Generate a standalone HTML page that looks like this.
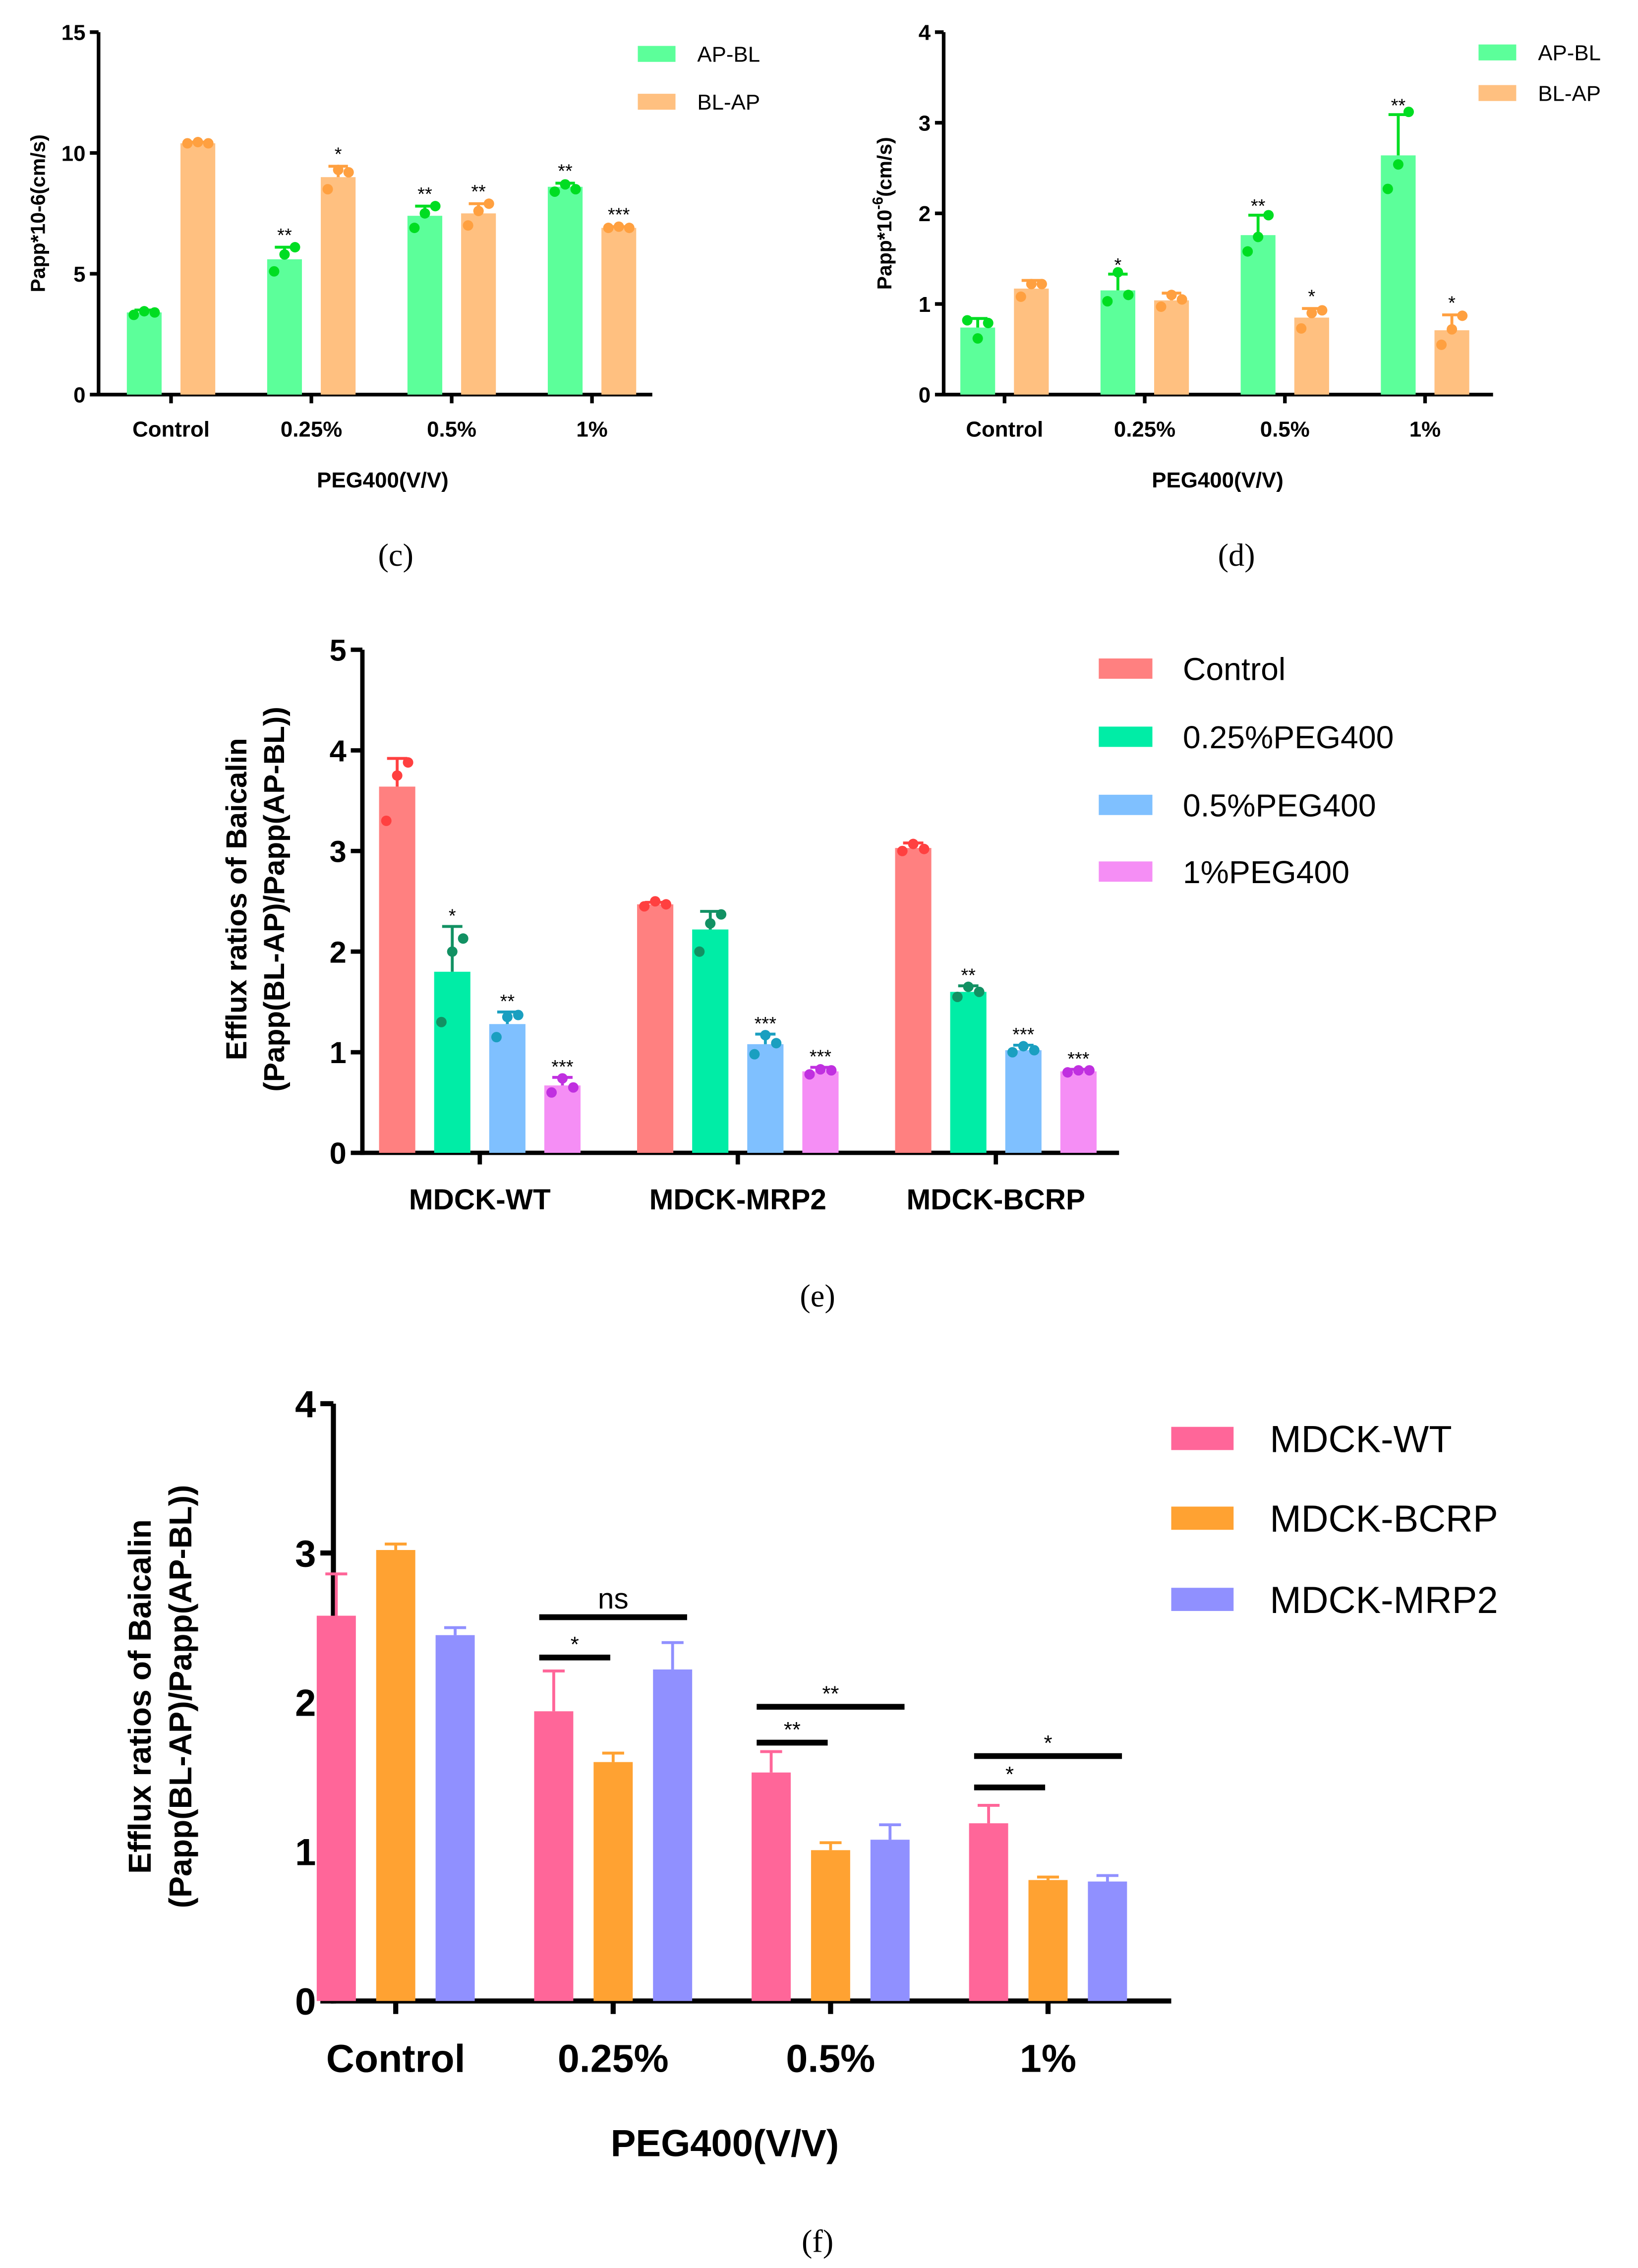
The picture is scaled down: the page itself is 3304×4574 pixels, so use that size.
<!DOCTYPE html>
<html><head><meta charset="utf-8"><style>
html,body{margin:0;padding:0;background:#fff}
svg{display:block}
text{font-family:"Liberation Sans",Arial,sans-serif}
.cap{font-family:"Liberation Serif",serif;font-size:22px}
</style></head><body>
<svg id="fig" width="3304" height="4574" viewBox="0 0 1130 1564" xmlns="http://www.w3.org/2000/svg"></svg>
<script>
// ---- Panel c data
const cCats=["Control","0.25%","0.5%","1%"];
const cSeries=["AP-BL","BL-AP"];
const cAPBL=[3.4,5.6,7.4,8.6];
const cBLAP=[10.4,9.0,7.5,6.9];
const cAPBLerr=[0.1,0.5,0.4,0.15];
const cBLAPerr=[0.05,0.45,0.4,0.05];
const cAPBLdots=[[3.3,3.45,3.4],[5.1,5.8,6.1],[6.9,7.5,7.8],[8.4,8.7,8.5]];
const cBLAPdots=[[10.4,10.45,10.4],[8.5,9.3,9.2],[7.0,7.6,7.9],[6.9,6.95,6.9]];
const cStars=[["","**","**","**"],["","*","**","***"]];
const cTicks=[0,5,10,15];
// ---- Panel d data
const dCats=["Control","0.25%","0.5%","1%"];
const dAPBL=[0.74,1.15,1.76,2.64];
const dBLAP=[1.17,1.04,0.85,0.71];
const dAPBLerr=[0.1,0.18,0.22,0.45];
const dBLAPerr=[0.09,0.08,0.1,0.17];
const dAPBLdots=[[0.82,0.62,0.79],[1.03,1.35,1.1],[1.58,1.74,1.98],[2.27,2.54,3.12]];
const dBLAPdots=[[1.08,1.22,1.22],[0.97,1.1,1.05],[0.73,0.9,0.93],[0.55,0.72,0.87]];
const dStars=[["","*","**","**"],["","","*","*"]];
const dTicks=[0,1,2,3,4];
// ---- Panel e data
const eCats=["MDCK-WT","MDCK-MRP2","MDCK-BCRP"];
const eSeries=["Control","0.25%PEG400","0.5%PEG400","1%PEG400"];
const eCtrl=[3.64,2.47,3.03];
const e025=[1.80,2.22,1.60];
const e05=[1.28,1.08,1.02];
const e1=[0.67,0.81,0.81];
const eCtrlErr=[0.28,0.02,0.05];
const e025Err=[0.45,0.18,0.06];
const e05Err=[0.12,0.1,0.05];
const e1Err=[0.08,0.04,0.02];
const eCtrlDots=[[3.3,3.75,3.88],[2.45,2.5,2.47],[3.0,3.07,3.02]];
const e025Dots=[[1.3,2.0,2.13],[2.0,2.28,2.37],[1.55,1.65,1.6]];
const e05Dots=[[1.15,1.35,1.37],[0.98,1.17,1.09],[1.0,1.06,1.02]];
const e1Dots=[[0.6,0.74,0.65],[0.78,0.83,0.82],[0.8,0.82,0.82]];
const eStars=[["","",""],["*","","**"],["**","***","***"],["***","***","***"]];
const eTicks=[0,1,2,3,4,5];
// ---- Panel f data
const fCats=["Control","0.25%","0.5%","1%"];
const fSeries=["MDCK-WT","MDCK-BCRP","MDCK-MRP2"];
const fWT=[2.58,1.94,1.53,1.19];
const fBCRP=[3.02,1.60,1.01,0.81];
const fMRP2=[2.45,2.22,1.08,0.80];
const fWTerr=[0.28,0.27,0.14,0.12];
const fBCRPerr=[0.04,0.06,0.05,0.02];
const fMRP2err=[0.05,0.18,0.1,0.04];
const fTicks=[0,1,2,3,4];
// significance brackets: category index, from series, to series, level, label
const fSigCat=[1,1,2,2,3,3];
const fSigTo=[1,2,1,2,1,2];
const fSigLevel=[2.3,2.57,1.73,1.97,1.43,1.64];
const fSigLabel=["*","ns","**","**","*","*"];

const NS="http://www.w3.org/2000/svg";
const svg=document.getElementById('fig');
function el(tag,attrs,parent,txt){const e=document.createElementNS(NS,tag);for(const k in attrs)e.setAttribute(k,attrs[k]);if(txt!==undefined)e.textContent=txt;(parent||svg).appendChild(e);return e;}
function grp(name){const g=el('g',{},svg);


return g;}

function axes(g,o){
  const ys=v=>o.y0-(v/o.max)*(o.y0-o.yTop);
  const ya=el('line',{x1:o.ax,y1:o.yTop,x2:o.ax,y2:o.y0+o.aw/2,stroke:'#000','stroke-width':o.aw},g);
  
  
  const xa=el('line',{x1:o.ax-o.aw/2,y1:o.y0,x2:o.xEnd,y2:o.y0,stroke:'#000','stroke-width':o.aw},g);
  
  
  o.ticks.forEach(t=>{
    el('line',{x1:o.ax-o.tl,y1:ys(t),x2:o.ax,y2:ys(t),stroke:'#000','stroke-width':o.aw},g);
    const tx=el('text',{x:o.ax-o.tl-3,y:ys(t)+o.tf*0.36,'text-anchor':'end','font-size':o.tf,'font-weight':'bold'},g,String(t));
    
    
  });
  o.cats.forEach((c,i)=>{
    const cx=o.cx(i);
    el('line',{x1:cx,y1:o.y0,x2:cx,y2:o.y0+o.tl,stroke:'#000','stroke-width':o.aw},g);
    const tx=el('text',{x:cx,y:o.labY,'text-anchor':'middle','font-size':o.lf,'font-weight':'bold'},g,c);
    
    
  });
  return ys;
}
function bar(g,x,w,v,err,ys,y0,fill,errCol,name){
  const r=el('rect',{x:x-w/2,y:ys(v),width:w,height:y0-ys(v),fill:fill},g);
  
  
  el('line',{x1:x,y1:ys(v),x2:x,y2:ys(v+err),stroke:errCol,'stroke-width':2},g);
  el('line',{x1:x-w*0.28,y1:ys(v+err),x2:x+w*0.28,y2:ys(v+err),stroke:errCol,'stroke-width':2},g);
}
function dots(g,x,w,vals,ys,col){
  const off=[-w*0.3,0,w*0.3];
  vals.forEach((v,k)=>{const c=el('circle',{cx:x+off[k],cy:ys(v),r:3.6,fill:col},g);
    
    });
}
function star(g,x,y,s,fs){if(!s)return;const t=el('text',{x:x,y:y,'text-anchor':'middle','font-size':fs},g,s);
  
  }
function legend(g,x,ys,names,cols,w,h,tx,fs){
  names.forEach((n,i)=>{
    const r=el('rect',{x:x,y:ys[i]-h/2,width:w,height:h,fill:cols[i]},g);
    
    
    const t=el('text',{x:tx,y:ys[i]+fs*0.36,'font-size':fs},g,n);
    
    
  });
}
function ytitle(g,x,y,lines,fs,gap){
  lines.forEach((l,i)=>{const t=el('text',{x:0,y:0,'text-anchor':'middle','font-size':fs,'font-weight':'bold',transform:`translate(${x+i*gap},${y}) rotate(-90)`},g,l);
    
    });
}
function xtitle(g,x,y,s,fs){const t=el('text',{x:x,y:y,'text-anchor':'middle','font-size':fs,'font-weight':'bold'},g,s);
  
  }
function caption(x,y,s){const t=el('text',{x:x,y:y,'text-anchor':'middle',class:'cap'},svg,s);
  
  }

const GREEN='#5cff9a',ORANGE='#ffc080',GDOT='#00dd22',ODOT='#ffa040';
// ---- Panel c
(function(){
  const g=grp('panel-c-chart');
  const cx=i=>118+i*96.8;
  const ys=axes(g,{ax:68,yTop:22,y0:272,max:15,xEnd:450,aw:2.5,tl:6,tf:15,lf:15,labY:301,ticks:cTicks,cats:cCats,cx:cx});
  cCats.forEach((c,i)=>{
    bar(g,cx(i)-18.5,24,cAPBL[i],cAPBLerr[i],ys,272,GREEN,GDOT,'bar-ap-bl');
    dots(g,cx(i)-18.5,24,cAPBLdots[i],ys,GDOT);
    star(g,cx(i)-18.5,ys(cAPBL[i]+cAPBLerr[i])-4,cStars[0][i],13);
    bar(g,cx(i)+18.5,24,cBLAP[i],cBLAPerr[i],ys,272,ORANGE,ODOT,'bar-bl-ap');
    dots(g,cx(i)+18.5,24,cBLAPdots[i],ys,ODOT);
    star(g,cx(i)+18.5,ys(cBLAP[i]+cBLAPerr[i])-4,cStars[1][i],13);
  });
  legend(g,440,[37,70],cSeries,[GREEN,ORANGE],26,11,481,15);
  ytitle(g,31,147,["Papp*10-6(cm/s)"],14,0);
  xtitle(g,264,336,"PEG400(V/V)",15);
})();
caption(273,390,"(c)");
// ---- Panel d
(function(){
  const g=grp('panel-d-chart');
  const cx=i=>693+i*96.7;
  const ys=axes(g,{ax:651,yTop:22,y0:272,max:4,xEnd:1030,aw:2.5,tl:6,tf:15,lf:15,labY:301,ticks:dTicks,cats:dCats,cx:cx});
  dCats.forEach((c,i)=>{
    bar(g,cx(i)-18.5,24,dAPBL[i],dAPBLerr[i],ys,272,GREEN,GDOT,'bar-ap-bl');
    dots(g,cx(i)-18.5,24,dAPBLdots[i],ys,GDOT);
    star(g,cx(i)-18.5,ys(dAPBL[i]+dAPBLerr[i])-2,dStars[0][i],13);
    bar(g,cx(i)+18.5,24,dBLAP[i],dBLAPerr[i],ys,272,ORANGE,ODOT,'bar-bl-ap');
    dots(g,cx(i)+18.5,24,dBLAPdots[i],ys,ODOT);
    star(g,cx(i)+18.5,ys(dBLAP[i]+dBLAPerr[i])-4,dStars[1][i],13);
  });
  legend(g,1020,[36,64],cSeries,[GREEN,ORANGE],26,11,1061,15);
  const t=el('text',{x:0,y:0,'text-anchor':'middle','font-size':14,'font-weight':'bold',transform:'translate(615,147) rotate(-90)'},g);
  
  
  el('tspan',{},t,'Papp*10');el('tspan',{dy:-6,'font-size':10},t,'-6');el('tspan',{dy:6},t,'(cm/s)');
  xtitle(g,840,336,"PEG400(V/V)",15);
})();
caption(853,390,"(d)");
// ---- Panel e
(function(){
  const g=grp('panel-e-chart');
  const cx=i=>331+i*178;
  const ys=axes(g,{ax:250,yTop:448,y0:795,max:5,xEnd:772,aw:3,tl:8,tf:21,lf:20,labY:834,ticks:eTicks,cats:eCats,cx:cx});
  const vals=[eCtrl,e025,e05,e1],errs=[eCtrlErr,e025Err,e05Err,e1Err],ds=[eCtrlDots,e025Dots,e05Dots,e1Dots];
  const fills=['#ff8080','#00eda6','#7fc0ff','#f58ef5'],dcol=['#ff4040','#129163','#1a9fc0','#c030e0'];
  const names=['bar-control','bar-0-25-peg400','bar-0-5-peg400','bar-1-peg400'];
  eCats.forEach((c,i)=>{
    for(let s=0;s<4;s++){
      const x=cx(i)+(s-1.5)*38;
      bar(g,x,25,vals[s][i],errs[s][i],ys,795,fills[s],dcol[s],names[s]);
      dots(g,x,25,ds[s][i],ys,dcol[s]);
      star(g,x,ys(vals[s][i]+errs[s][i])-3,eStars[s][i],13);
    }
  });
  legend(g,758,[461,508,555,601],eSeries,fills,37,14,816,22);
  ytitle(g,170,620,["Efflux ratios of Baicalin","(Papp(BL-AP)/Papp(AP-BL))"],20,26);
})();
caption(564,901,"(e)");
// ---- Panel f
(function(){
  const g=grp('panel-f-chart');
  const cx=i=>273+i*150;
  const ys=axes(g,{ax:230,yTop:968,y0:1380,max:4,xEnd:808,aw:3.5,tl:9,tf:26,lf:27,labY:1429,ticks:fTicks,cats:fCats,cx:cx});
  const vals=[fWT,fBCRP,fMRP2],errs=[fWTerr,fBCRPerr,fMRP2err];
  const fills=['#ff6699','#ffa232','#9090ff'];
  const names=['bar-mdck-wt','bar-mdck-bcrp','bar-mdck-mrp2'];
  fCats.forEach((c,i)=>{
    for(let s=0;s<3;s++){
      bar(g,cx(i)+(s-1)*41,27,vals[s][i],errs[s][i],ys,1380,fills[s],fills[s],names[s]);
    }
  });
  fSigCat.forEach((ci,k)=>{
    const x1=cx(ci)-41-14,x2=cx(ci)+(fSigTo[k]-1)*41+(fSigTo[k]===1?-2:10);
    const y=ys(fSigLevel[k]);
    const l=el('line',{x1:x1+4,y1:y,x2:x2,y2:y,stroke:'#000','stroke-width':4},g);
    
    
    star(g,(x1+4+x2)/2,y-(fSigLabel[k]==='ns'?6:4),fSigLabel[k],fSigLabel[k]==='ns'?20:15);
  });
  legend(g,808,[992,1047,1103],fSeries,fills,43,16,876,26);
  ytitle(g,104,1170,["Efflux ratios of Baicalin","(Papp(BL-AP)/Papp(AP-BL))"],22,28);
  xtitle(g,500,1487,"PEG400(V/V)",26);
})();
caption(564,1553,"(f)");
</script>
</body></html>
